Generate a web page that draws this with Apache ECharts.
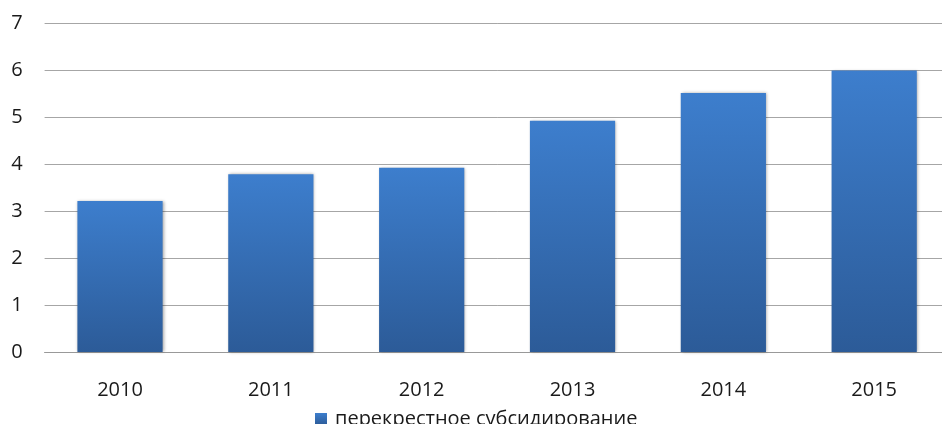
<!DOCTYPE html>
<html><head><meta charset="utf-8">
<script src="https://cdn.jsdelivr.net/npm/echarts@6/dist/echarts.min.js"></script>
<style>html,body{margin:0;padding:0;background:#fff;overflow:hidden;width:942px;height:424px}#c{width:950px;height:424px}</style>
</head><body><div id="c"></div>
<script>
const categories = ['2010','2011','2012','2013','2014','2015'];
const values = [3.22, 3.79, 3.93, 4.93, 5.52, 6.0];
const seriesName = 'перекрестное субсидирование';
const yTicks = {min: 0, max: 7, interval: 1};

const chart = echarts.init(document.getElementById('c'), null, {renderer: 'canvas'});
const font = '"Open Sans", sans-serif';
chart.setOption({
  animation: false,
  backgroundColor: '#fff',
  grid: {left: 44.6, top: 23.7, right: 0.4, bottom: 72, containLabel: false},
  legend: {
    data: [seriesName], left: 315, top: 409, padding: 0,
    icon: 'rect', itemWidth: 12, itemHeight: 12, itemGap: 8,
    textStyle: {fontFamily: font, fontSize: 20, color: '#1a1a1a', padding: [0,0,0,3]}
  },
  xAxis: {
    type: 'category', data: categories,
    axisLine: {show: true, lineStyle: {color: '#999', width: 1}},
    axisTick: {show: false},
    axisLabel: {fontFamily: font, fontSize: 20, color: '#1a1a1a', margin: 28}
  },
  yAxis: {
    type: 'value', min: yTicks.min, max: yTicks.max, interval: yTicks.interval,
    axisLine: {show: false}, axisTick: {show: false},
    splitLine: {lineStyle: {color: '#a6a6a6', width: 1}},
    axisLabel: {fontFamily: font, fontSize: 20, color: '#1a1a1a', margin: 22}
  },
  series: [{
    name: seriesName, type: 'bar', data: values, barWidth: '56.5%',
    itemStyle: {
      color: new echarts.graphic.LinearGradient(0,0,0,1,[
        {offset: 0, color: '#3d7ecd'},
        {offset: 1, color: '#2c5b98'}
      ]),
      shadowBlur: 3, shadowColor: 'rgba(0,0,0,0.35)', shadowOffsetX: 1, shadowOffsetY: 0
    }
  }]
});
</script></body></html>
